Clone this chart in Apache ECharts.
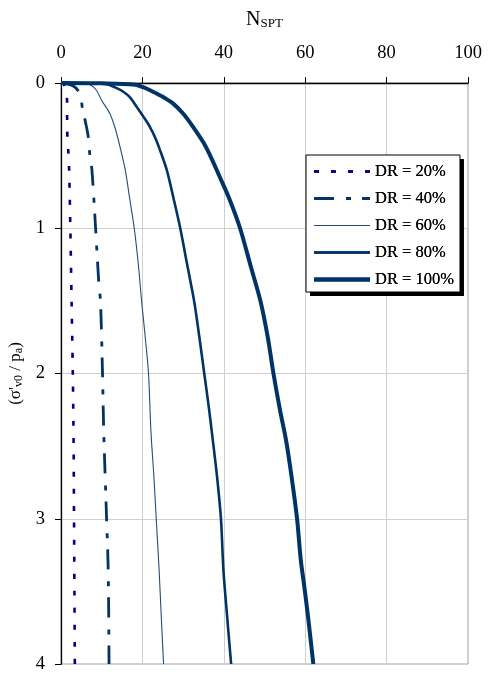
<!DOCTYPE html>
<html><head><meta charset="utf-8">
<script src="https://cdn.jsdelivr.net/npm/echarts@6/dist/echarts.min.js"></script>
<style>html,body{margin:0;padding:0;background:#fff}#c{width:489px;height:677px}</style>
</head><body><div id="c"></div>
<script>
const seriesNames = ['DR = 20%','DR = 40%','DR = 60%','DR = 80%','DR = 100%'];
const xTicks = [0,20,40,60,80,100];
const yTicks = [0,1,2,3,4];
// [N_SPT, sigma'v0/pa]
const dr20 = [[0,0],[0.7,0.01],[1.2,0.06],[1.5,0.13],[1.5,0.3],[1.8,0.47],[2.0,0.6],[2.3,1.0],[2.6,1.5],[2.9,2.0],[3.1,2.5],[3.2,3.0],[3.3,3.5],[3.4,4.0]];
const dr40 = [[0,0],[2,0.01],[3.5,0.03],[4.7,0.08],[5.3,0.18],[6.1,0.28],[6.7,0.37],[7.1,0.5],[7.6,0.6],[8.5,1.0],[9.3,1.38],[9.7,1.5],[10.2,2.0],[10.5,2.4],[11.2,3.0],[11.6,3.35],[11.8,4.0]];
const dr60 = [[0,0],[4,0.003],[7,0.01],[8.7,0.05],[10,0.12],[12,0.21],[13.4,0.32],[14.5,0.44],[15.8,0.6],[16.9,0.8],[18,1.0],[19,1.25],[19.8,1.5],[20.7,1.75],[21.5,2.0],[22.1,2.4],[22.8,2.7],[23.4,3.0],[24.1,3.35],[24.6,3.65],[25.2,4.0]];
const dr80 = [[0,0],[7,0.002],[11,0.006],[13.3,0.03],[15.3,0.06],[17,0.1],[18.5,0.16],[20.2,0.23],[21.8,0.3],[23.2,0.38],[24.3,0.46],[26,0.6],[27.7,0.8],[29.3,1.0],[31,1.25],[32.7,1.5],[34,1.75],[35.2,2.0],[36.4,2.25],[37.3,2.46],[38.3,2.7],[39.3,3.0],[39.9,3.35],[40.6,3.6],[41.8,4.0]];
const dr100 = [[0,0],[10,0.002],[17.8,0.01],[20.3,0.03],[22.6,0.06],[25,0.095],[27.5,0.14],[30,0.21],[32.4,0.3],[35,0.41],[37,0.52],[38.9,0.64],[41.4,0.8],[44,1.0],[46.7,1.27],[49,1.5],[50.8,1.75],[52.2,2.0],[53.8,2.25],[55.3,2.46],[56.6,2.7],[58,3.0],[58.9,3.28],[59.7,3.45],[60.6,3.65],[62,4.0]];

const serif = 'Liberation Serif';
const styles = [
  {color:'#000080', width:2.6, type:[5,12]},
  {color:'#003366', width:2.8, type:[20,12,5,11]},
  {color:'#1f4e79', width:1.1, type:'solid'},
  {color:'#003366', width:2.6, type:'solid'},
  {color:'#003366', width:4, type:'solid'}
];
const seriesData = [dr20, dr40, dr60, dr80, dr100];
const legendItems = seriesNames.map((n,i)=>({name:n, itemStyle:{opacity:0}, lineStyle:{color:styles[i].color, width:styles[i].width, type:styles[i].type, opacity:1}}));
const legendBase = {
  left:306, top:155, orient:'vertical',
  data: legendItems,
  itemWidth:56, itemHeight:14, itemGap:10,
  padding:[8,6,4,6],
  selectedMode:false,
  textStyle:{fontFamily:serif, fontSize:16.5, color:'#000'}
};
const chart = echarts.init(document.getElementById('c'), null, {renderer:'canvas'});
chart.setOption({
  animation:false,
  backgroundColor:'#fff',
  grid:{left:61, right:21, top:83, bottom:13, outerBoundsMode:'none', containLabel:false, show:true, borderColor:'#a0a0a0', borderWidth:1, backgroundColor:'transparent'},
  legend:[
    Object.assign({}, legendBase, {backgroundColor:'#fff', borderWidth:0, shadowColor:'#000', shadowOffsetX:4, shadowOffsetY:4, shadowBlur:0, z:4}),
    Object.assign({}, legendBase, {backgroundColor:'transparent', borderColor:'#000', borderWidth:1, z:5})
  ],
  xAxis:{
    type:'value', position:'top', min:xTicks[0], max:xTicks[xTicks.length-1], interval:20,
    name:'N{sub|SPT}', nameLocation:'middle', nameGap:53,
    nameTextStyle:{fontFamily:serif, fontSize:20, color:'#000', rich:{sub:{fontFamily:serif, fontSize:13, color:'#000', padding:[8,0,0,0]}}},
    axisLine:{show:true, onZero:false, lineStyle:{color:'#000', width:1.3}},
    axisTick:{show:true, length:6, lineStyle:{color:'#000', width:1}},
    axisLabel:{fontFamily:serif, fontSize:18.5, color:'#000', margin:20},
    splitLine:{show:true, lineStyle:{color:'#cfcfcf', width:1}}
  },
  yAxis:{
    type:'value', inverse:true, min:yTicks[0], max:yTicks[yTicks.length-1], interval:1,
    name:"(σ'{sub|v0} / p{sub|a})", nameLocation:'middle', nameGap:33, nameRotate:90,
    nameTextStyle:{fontFamily:serif, fontSize:17, color:'#000', rich:{sub:{fontFamily:serif, fontSize:12, color:'#000', padding:[7,0,0,0]}}},
    axisLine:{show:true, onZero:false, lineStyle:{color:'#000', width:1.3}},
    axisTick:{show:true, length:6, lineStyle:{color:'#000', width:1}},
    axisLabel:{fontFamily:serif, fontSize:18.5, color:'#000', margin:16},
    splitLine:{show:true, lineStyle:{color:'#cfcfcf', width:1}}
  },
  series: seriesNames.map((n,i)=>({
    name:n, type:'line', data:seriesData[i], symbol:'none', smooth:0.3, silent:true,
    lineStyle:styles[i], itemStyle:{color:styles[i].color}, z:3
  }))
});
</script></body></html>
